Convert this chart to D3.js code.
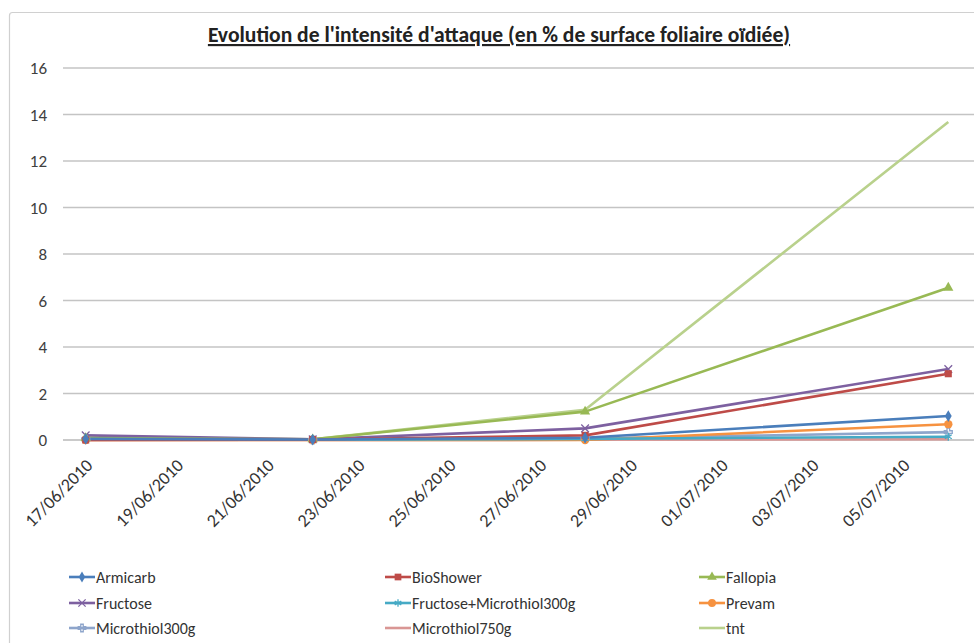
<!DOCTYPE html>
<html>
<head>
<meta charset="utf-8">
<script src="https://cdn.jsdelivr.net/npm/d3@7"></script>
<style>
  html, body { margin: 0; padding: 0; background: #fff; }
  svg { display: block; }
  text { font-family: "Carlito", "Liberation Sans Narrow", "Open Sans", sans-serif; }
</style>
</head>
<body>
<svg id="chart" width="974" height="643"></svg>
<script>
const title = "Evolution de l'intensité d'attaque (en % de surface foliaire oïdiée)";
const dates = ["2010-06-17", "2010-06-22", "2010-06-28", "2010-07-06"];
const seriesNames = ["Armicarb", "BioShower", "Fallopia", "Fructose", "Fructose+Microthiol300g", "Prevam", "Microthiol300g", "Microthiol750g", "tnt"];
const armicarb      = [0.05, 0.02, 0.10, 1.03];
const bioShower     = [0.00, 0.02, 0.20, 2.85];
const fallopia      = [0.08, 0.03, 1.22, 6.55];
const fructose      = [0.20, 0.03, 0.50, 3.05];
const fructoseMicro = [0.02, 0.01, 0.05, 0.14];
const prevam        = [0.00, 0.00, 0.00, 0.68];
const microthiol300 = [0.03, 0.01, 0.06, 0.34];
const microthiol750 = [0.00, 0.00, 0.01, 0.03];
const tnt           = [0.10, 0.03, 1.30, 13.68];
const yTicks = [0, 2, 4, 6, 8, 10, 12, 14, 16];
const xTickLabels = ["17/06/2010","19/06/2010","21/06/2010","23/06/2010","25/06/2010","27/06/2010","29/06/2010","01/07/2010","03/07/2010","05/07/2010"];

const seriesValues = [armicarb, bioShower, fallopia, fructose, fructoseMicro, prevam, microthiol300, microthiol750, tnt];
const colors = ["#4A7EBB", "#BE4B48", "#98B954", "#7D60A0", "#46AAC5", "#F69240", "#8EA5CB", "#D99694", "#B9D18C"];
const markers = ["diamond", "square", "triangle", "x", "star", "circle", "plus", "none", "none"];

const FONT = "\"Carlito\", \"Liberation Sans Narrow\", \"Open Sans\", sans-serif";
const svg = d3.select("#chart");
const parse = d3.timeParse("%Y-%m-%d");
const fmt = d3.timeParse("%d/%m/%Y");
const day = 24 * 3600 * 1000;

// frame
svg.append("rect").attr("x", 9.5).attr("y", 12.5).attr("width", 1000).attr("height", 700)
  .attr("rx", 3).attr("fill", "#fff").attr("stroke", "#d0d0d0").attr("stroke-width", 1.2);

const start = new Date(parse(dates[0]).getTime() - day / 2);
const end = new Date(parse(dates[3]).getTime() + day / 2 + day);
const x = d3.scaleTime().domain([start, end]).range([63, 63 + 45.4 * 21]);
const y = d3.scaleLinear().domain([0, 16]).range([440, 68]);

// title
svg.append("text").attr("x", 499).attr("y", 42).attr("text-anchor", "middle")
  .attr("font-size", 21.6).attr("font-weight", "bold").attr("fill", "#222")
  .attr("text-decoration", "underline").text(title);

// y axis labels
const yAxis = d3.axisLeft(y).tickValues(yTicks).tickSize(0).tickPadding(0);
const gy = svg.append("g").attr("transform", "translate(47,0)").call(yAxis);
gy.select(".domain").remove();
gy.selectAll("text").attr("font-size", 17).attr("fill", "#404040").attr("dy", "0.35em")
  .attr("font-family", FONT);

// gridlines
svg.append("g").selectAll("line").data(yTicks).join("line")
  .attr("x1", 63).attr("x2", 974).attr("y1", d => y(d)).attr("y2", d => y(d))
  .attr("stroke", d => d === 0 ? "#b8b8b8" : "#c4c4c4").attr("stroke-width", 1.3);

// x tick labels
const xAxis = d3.axisBottom(x).tickValues(xTickLabels.map(fmt)).tickSize(0).tickFormat(d3.timeFormat("%d/%m/%Y"));
const gx = svg.append("g").attr("transform", "translate(0,440)").call(xAxis);
gx.select(".domain").remove();
gx.selectAll(".tick text").attr("font-size", 18).attr("fill", "#333")
  .attr("font-family", FONT)
  .attr("text-anchor", "end").attr("dy", "0.35em").attr("y", 0)
  .attr("transform", "translate(3,22) rotate(-45)");

// lines
const line = d3.line().x((d, i) => x(parse(dates[i]))).y(d => y(d));
const drawOrder = [8, 7, 6, 5, 4, 3, 2, 1, 0];
const gl = svg.append("g");
drawOrder.forEach(s => {
  gl.append("path").datum(seriesValues[s]).attr("d", line)
    .attr("fill", "none").attr("stroke", colors[s]).attr("stroke-width", 2.6)
    .attr("stroke-linejoin", "round");
});

function marker(g, type, cx, cy, color, size) {
  const s = size || 1;
  const t = `translate(${cx},${cy})`;
  if (type === "diamond") {
    g.append("path").attr("d", d3.symbol(d3.symbolDiamond, 40 * s)()).attr("transform", t).attr("fill", color);
  } else if (type === "square") {
    g.append("path").attr("d", d3.symbol(d3.symbolSquare, 50 * s)()).attr("transform", t).attr("fill", color);
  } else if (type === "triangle") {
    g.append("path").attr("d", d3.symbol(d3.symbolTriangle, 45 * s)()).attr("transform", t).attr("fill", color);
  } else if (type === "circle") {
    g.append("path").attr("d", d3.symbol(d3.symbolCircle, 55 * s)()).attr("transform", t).attr("fill", color);
  } else if (type === "x") {
    g.append("path").attr("d", d3.symbol(d3.symbolX, 40 * s)()).attr("transform", t)
      .attr("fill", "none").attr("stroke", color).attr("stroke-width", 1.3);
  } else if (type === "star") {
    g.append("path").attr("d", d3.symbol(d3.symbolAsterisk, 45 * s)()).attr("transform", t)
      .attr("fill", "none").attr("stroke", color).attr("stroke-width", 1.3);
  } else if (type === "plus") {
    g.append("path").attr("d", d3.symbol(d3.symbolCross, 35 * s)()).attr("transform", t)
      .attr("fill", "none").attr("stroke", color).attr("stroke-width", 1.3);
  }
}

const gm = svg.append("g");
drawOrder.forEach(s => {
  seriesValues[s].forEach((v, i) => marker(gm, markers[s], x(parse(dates[i])), y(v), colors[s]));
});

// legend
const legX = [69, 385, 699];
const legY = [577, 603, 628];
seriesNames.forEach((name, i) => {
  const cx = legX[i % 3], cy = legY[Math.floor(i / 3)];
  const g = svg.append("g");
  g.append("line").attr("x1", cx).attr("x2", cx + 26).attr("y1", cy).attr("y2", cy)
    .attr("stroke", colors[i]).attr("stroke-width", 2.6);
  marker(g, markers[i], cx + 13, cy, colors[i], 0.9);
  g.append("text").attr("x", cx + 27).attr("y", cy).attr("dy", "0.35em")
    .attr("font-size", 16).attr("fill", "#333").text(name);
});
</script>
</body>
</html>
